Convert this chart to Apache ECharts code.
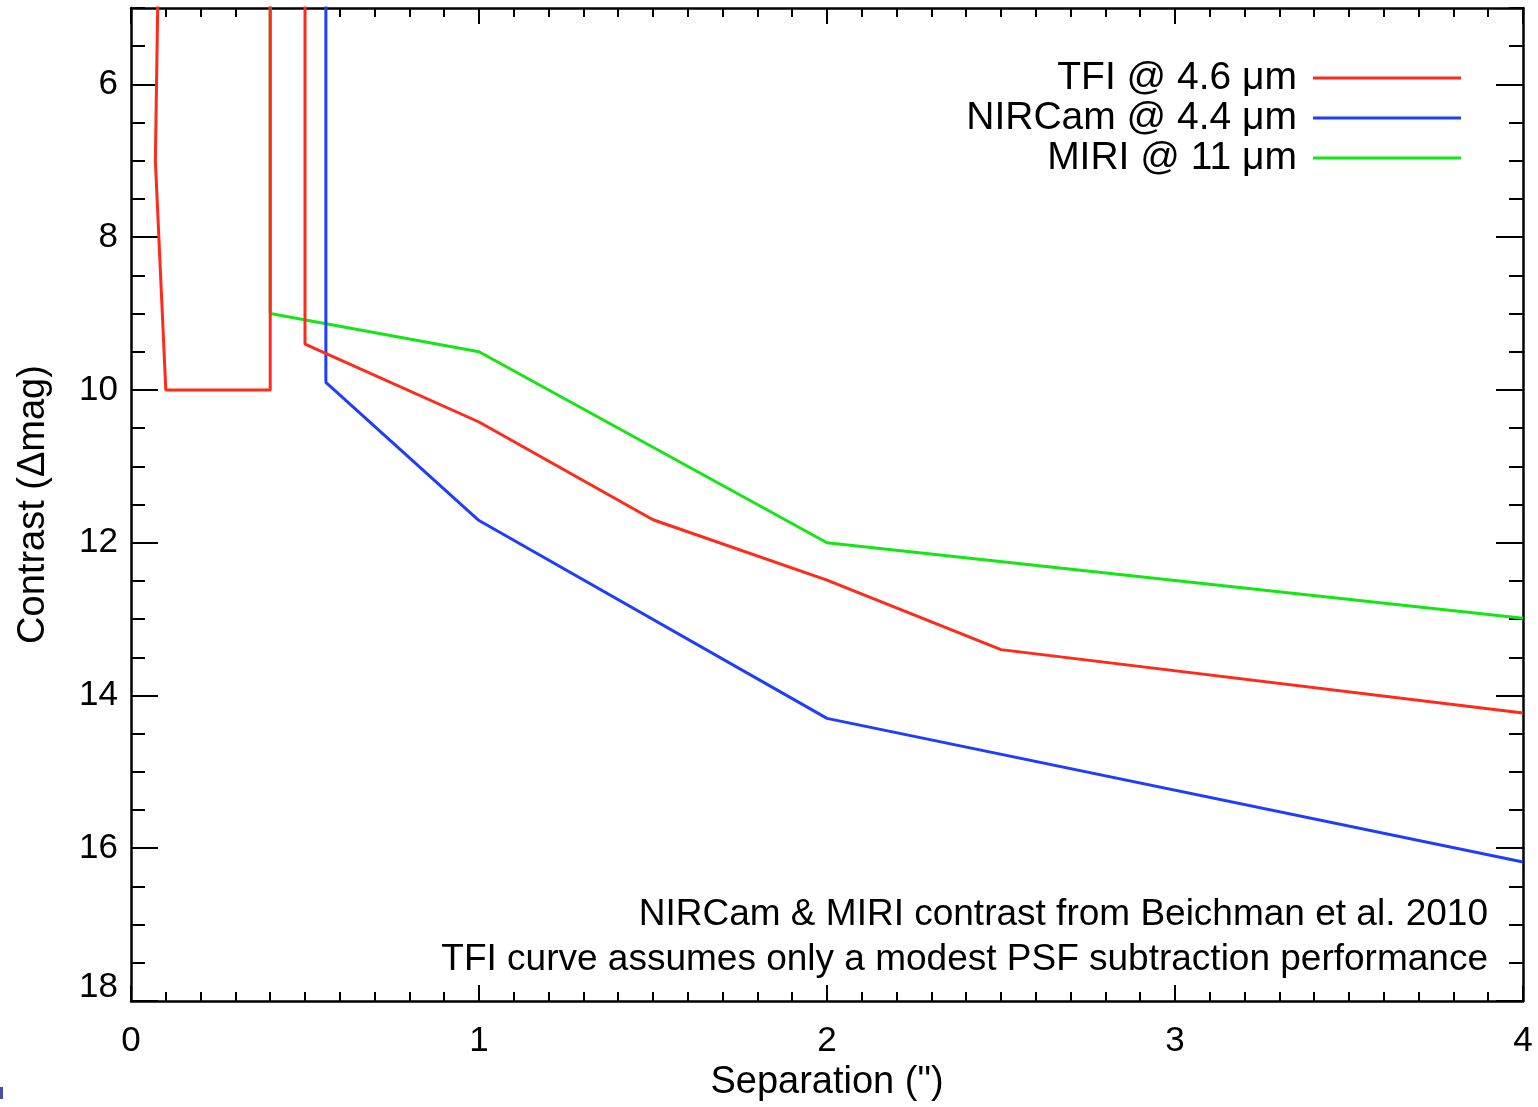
<!DOCTYPE html>
<html>
<head>
<meta charset="utf-8">
<title>Contrast vs separation</title>
<script src="https://cdn.jsdelivr.net/npm/echarts@6/dist/echarts.min.js"></script>
<style>
  html, body { margin: 0; padding: 0; background: #ffffff; }
  #chart { width: 1538px; height: 1107px; }
</style>
</head>
<body>
<div id="chart"></div>
<script>
// Contrast curves: [separation (arcsec), contrast (delta mag)].
// Values of 4 lie above the plotted range and are clipped at the frame.
const tfiName = 'TFI @ 4.6 μm';
const nircamName = 'NIRCam @ 4.4 μm';
const miriName = 'MIRI @ 11 μm';

const tfiCurve = [
  [0.08, 4], [0.07, 7.0], [0.10, 10.0], [0.40, 10.0], [0.40, 4],
  [0.50, 4], [0.50, 9.4], [1.0, 10.42], [1.5, 11.7], [2.0, 12.49],
  [2.5, 13.4], [4.0, 14.23]
];
const nircamCurve = [
  [0.56, 4], [0.56, 9.9], [1.0, 11.71], [2.0, 14.3], [4.0, 16.18]
];
const miriCurve = [
  [0.40, 4], [0.40, 9.0], [1.0, 9.5], [2.0, 12.0], [4.0, 12.99]
];

const xTicks = [0, 1, 2, 3, 4];
const yTicks = [6, 8, 10, 12, 14, 16, 18];

const notes = [
  'NIRCam & MIRI contrast from Beichman et al. 2010',
  'TFI curve assumes only a modest PSF subtraction performance'
];

const FONT = '"Liberation Sans", Arial, Helvetica, sans-serif';
const colors = { tfi: '#ff2a1a', nircam: '#1f3dff', miri: '#14e614' };

const chart = echarts.init(document.getElementById('chart'), null, { renderer: 'canvas' });

const axisLine = { show: true, lineStyle: { color: '#000', width: 2.5 } };
const tickStyle = { color: '#000', width: 2 };

function xAxisDef(pos, showLabels) {
  return {
    type: 'value', position: pos, min: 0, max: 4, interval: 1,
    axisLine: axisLine,
    axisTick: { show: true, inside: true, length: 16, lineStyle: tickStyle },
    minorTick: { show: true, splitNumber: 10, length: 9, lineStyle: tickStyle },
    splitLine: { show: false }, minorSplitLine: { show: false },
    axisLabel: {
      show: showLabels, customValues: xTicks, margin: 23,
      fontFamily: FONT, fontSize: 35, color: '#000'
    },
    name: showLabels ? 'Separation (")' : '',
    nameLocation: 'middle', nameGap: 63,
    nameTextStyle: { fontFamily: FONT, fontSize: 38, color: '#000' }
  };
}

function yAxisDef(pos, major, withLabels) {
  const ax = {
    type: 'value', position: pos, inverse: true, min: 5, max: 18,
    axisLine: major ? { show: false } : axisLine,
    axisTick: major
      ? { show: true, inside: true, length: 27, customValues: yTicks, lineStyle: tickStyle }
      : { show: true, inside: true, length: 14, lineStyle: tickStyle },
    splitLine: { show: false },
    axisLabel: { show: false }
  };
  if (!major) ax.interval = 0.5;
  if (withLabels) {
    ax.axisLabel = {
      show: true, customValues: yTicks, margin: 13,
      fontFamily: FONT, fontSize: 35, color: '#000',
      formatter: function (v) { return v === 18 ? '{low|18}' : String(v); },
      rich: { low: { fontFamily: FONT, fontSize: 35, color: '#000', padding: [0, 0, 28, 0] } }
    };
    ax.name = 'Contrast (Δmag)';
    ax.nameLocation = 'middle';
    ax.nameGap = 78;
    ax.nameTextStyle = { fontFamily: FONT, fontSize: 38, color: '#000' };
  }
  return ax;
}

function legendDef(name, top) {
  return {
    data: [name], right: 77, top: top, orient: 'vertical', align: 'right',
    padding: 0, selectedMode: false, icon: 'rect', itemWidth: 148, itemHeight: 3,
    textStyle: { fontFamily: FONT, fontSize: 39, color: '#000', lineHeight: 40, padding: [0, 11, 0, 0] }
  };
}

function lineSeries(name, data, color, z) {
  return {
    name: name, type: 'line', data: data, xAxisIndex: 0, yAxisIndex: 0,
    showSymbol: false, symbol: 'none', clip: true, z: z,
    lineStyle: { color: color, width: 3 }, itemStyle: { color: color },
    emphasis: { disabled: true }
  };
}

chart.setOption({
  animation: false,
  backgroundColor: '#ffffff',
  grid: { left: 131, right: 15, top: 8, bottom: 102, containLabel: false },
  xAxis: [xAxisDef('bottom', true), xAxisDef('top', false)],
  yAxis: [
    yAxisDef('left', false, true),
    yAxisDef('left', true, false),
    yAxisDef('right', false, false),
    yAxisDef('right', true, false)
  ],
  legend: [
    legendDef(tfiName, 58),
    legendDef(nircamName, 98),
    legendDef(miriName, 138)
  ],
  series: [
    lineSeries(miriName, miriCurve, colors.miri, 2),
    lineSeries(nircamName, nircamCurve, colors.nircam, 3),
    lineSeries(tfiName, tfiCurve, colors.tfi, 4)
  ],
  graphic: [
    {
      type: 'text', right: 50, top: 896, z: 10,
      style: { text: notes[0], fontFamily: FONT, fontSize: 37, fill: '#000', textAlign: 'right' }
    },
    {
      type: 'text', right: 50, top: 941, z: 10,
      style: { text: notes[1], fontFamily: FONT, fontSize: 37, fill: '#000', textAlign: 'right' }
    },
    {
      type: 'rect', left: 0, top: 1087, z: 10,
      shape: { width: 3, height: 12 }, style: { fill: '#4b4ba8' }
    }
  ]
});
</script>
</body>
</html>
